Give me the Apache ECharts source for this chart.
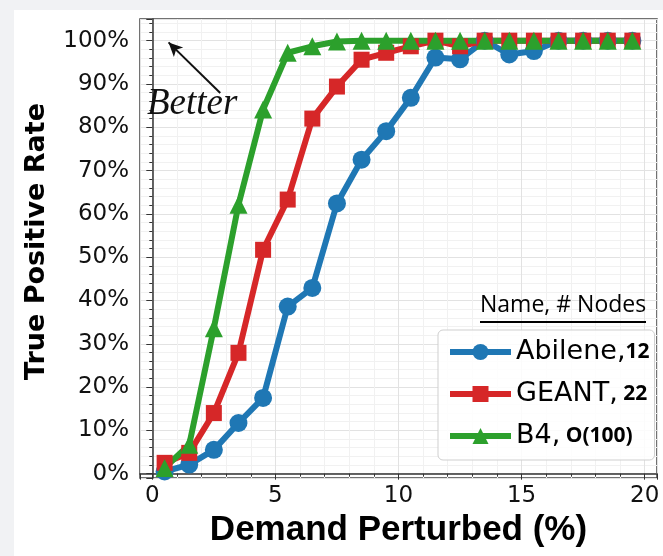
<!DOCTYPE html>
<html>
<head>
<meta charset="utf-8">
<script src="https://cdn.jsdelivr.net/npm/echarts@6/dist/echarts.min.js"></script>
<style>
  html, body { margin: 0; padding: 0; background: #f1f2f4; }
  #chart { position: absolute; left: 14px; top: 10px; width: 649px; height: 546px; background: #fff; }
</style>
</head>
<body>
<div id="chart"></div>
<script>
// demand perturbed (%) at which each point is taken
const perturb = [0.5, 1.5, 2.5, 3.5, 4.5, 5.5, 6.5, 7.5, 8.5, 9.5,
                 10.5, 11.5, 12.5, 13.5, 14.5, 15.5, 16.5, 17.5, 18.5, 19.5]
// true positive rate (%)
const abilene = [0.5, 2.1, 5.5, 11.7, 17.5, 38.6, 42.9, 62.4, 72.5, 79.1,
                 86.8, 96.1, 95.7, 100, 96.8, 97.6, 100, 100, 100, 100]
const geant = [2.5, 4.8, 14.0, 27.9, 51.7, 63.3, 82.0, 89.4, 95.6, 97.2,
               98.7, 100, 98.7, 100, 100, 100, 100, 100, 100, 100]
const b4 = [1.3, 6.7, 33.6, 62.1, 84.1, 97.2, 98.7, 99.8, 100, 100,
            100, 100, 100, 100, 100, 100, 100, 100, 100, 100]
const names = ['Abilene', 'GEANT', 'B4']
const nodeCounts = ['12', ' 22', ' O(100)']

const chart = echarts.init(document.getElementById('chart'))

function pairs(vals) { return vals.map((v, i) => [perturb[i], v]) }

function makeSeries(name, vals, color, symbol, size) {
  return {
    name, type: 'line', data: pairs(vals),
    symbol, symbolSize: size,
    lineStyle: { color, width: 6 },
    itemStyle: { color },
    emphasis: { disabled: true },
    animation: false
  }
}

const series = [
  makeSeries(names[0], abilene, '#1f77b4', 'circle', 18),
  makeSeries(names[1], geant, '#d62728', 'rect', 16),
  makeSeries(names[2], b4, '#2ca02c', 'triangle', 18)
]
// "Better" arrow
series[0].markLine = {
  silent: true, symbol: ['none', 'arrow'], symbolSize: [10, 14],
  label: { show: false },
  lineStyle: { color: '#111', width: 2, type: 'solid' },
  data: [[{ coord: [2.76, 87.9] }, { coord: [0.66, 99.6] }]]
}

const tickFont = { fontFamily: 'DejaVu Sans', fontSize: 23, color: '#111' }
const gridLine = { show: true, lineStyle: { color: '#e2e2e2', width: 1 } }
const minorLine = { show: true, lineStyle: { color: '#f1f1f1', width: 1 } }

chart.setOption({
  backgroundColor: '#fff',
  grid: { left: 126, right: 6, top: 9, bottom: 78, show: true,
          borderColor: '#444', borderWidth: 1.5 },
  xAxis: {
    type: 'value', min: -0.5, max: 20.5, splitNumber: 4,
    name: 'Demand Perturbed (%)', nameLocation: 'middle', nameGap: 33,
    nameTextStyle: { fontFamily: 'Liberation Sans', fontWeight: 'bold', fontSize: 35, color: '#000' },
    axisLine: { lineStyle: { color: '#333', width: 1.5 } },
    axisTick: { show: true, length: 6, lineStyle: { color: '#333' } },
    minorTick: { show: true, splitNumber: 5, length: 3, lineStyle: { color: '#333' } },
    axisLabel: Object.assign({ margin: 7, showMinLabel: false, showMaxLabel: false }, tickFont),
    splitLine: gridLine,
    minorSplitLine: minorLine
  },
  yAxis: {
    type: 'value', min: -1, max: 105, splitNumber: 10,
    name: 'True Positive Rate', nameLocation: 'middle', nameGap: 90,
    nameTextStyle: { fontFamily: 'DejaVu Sans', fontWeight: 'bold', fontSize: 27, color: '#000',
                     padding: [0, 0, 0, 14] },
    axisLine: { lineStyle: { color: '#333', width: 1.5 } },
    axisTick: { show: true, length: 6, lineStyle: { color: '#333' } },
    minorTick: { show: true, splitNumber: 5, length: 3, lineStyle: { color: '#333' } },
    axisLabel: Object.assign({ margin: 11, formatter: '{value}%', showMinLabel: false, showMaxLabel: false }, tickFont),
    splitLine: gridLine,
    minorSplitLine: minorLine
  },
  legend: {
    orient: 'vertical', left: 424, top: 320,
    padding: [8, 5, 10, 9], itemGap: 14,
    itemWidth: 61, itemHeight: 20,
    backgroundColor: 'rgba(255,255,255,0.85)',
    borderColor: '#cfcfcf', borderWidth: 1, borderRadius: 5,
    lineStyle: { width: 6 },
    data: names,
    formatter: name => name + ',{b|' + nodeCounts[names.indexOf(name)] + '}',
    textStyle: {
      fontFamily: 'DejaVu Sans', fontSize: 27, color: '#000', lineHeight: 28,
      rich: { b: { fontFamily: 'Open Sans', fontWeight: 'bold', fontSize: 21, color: '#000' } }
    }
  },
  graphic: [
    { type: 'text', left: 133, top: 76, z: 100,
      style: { text: 'Better', fontFamily: 'Liberation Serif', fontStyle: 'italic', fontSize: 37, fill: '#111' } },
    { type: 'text', left: 466, top: 284, z: 100,
      style: { text: 'Name, # Nodes', fontFamily: 'Open Sans', fontSize: 23, fill: '#000' } },
    { type: 'rect', left: 466, top: 311, z: 100, shape: { width: 166, height: 2 }, style: { fill: '#000' } }
  ],
  series
})
</script>
</body>
</html>
